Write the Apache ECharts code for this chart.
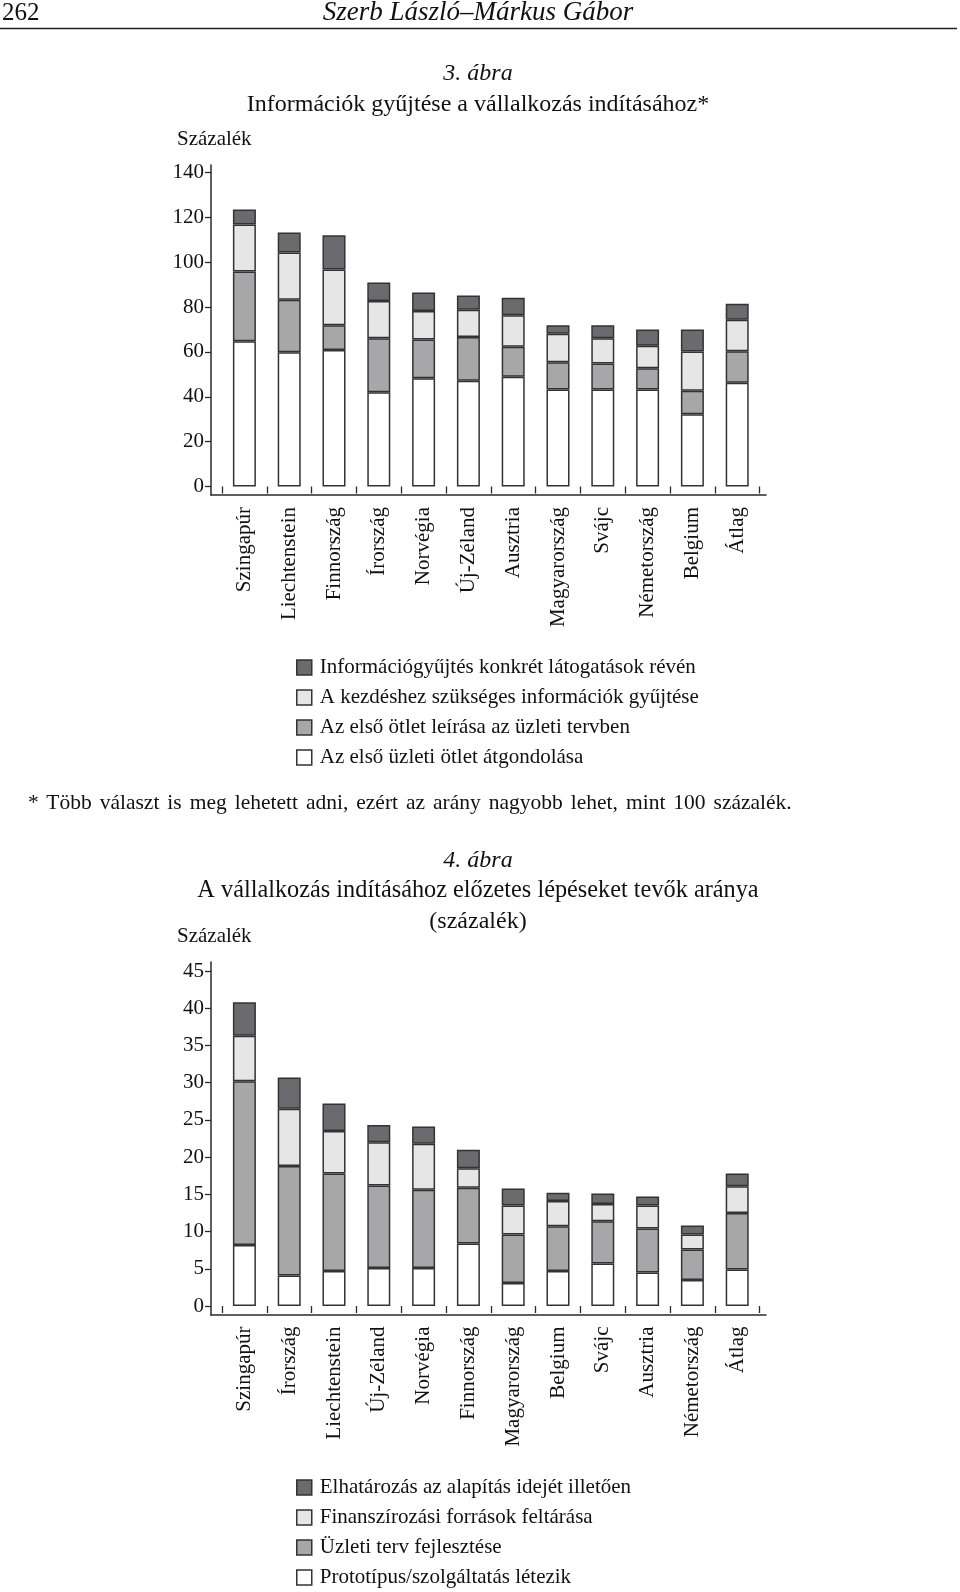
<!DOCTYPE html>
<html>
<head>
<meta charset="utf-8">
<script src="https://cdn.jsdelivr.net/npm/echarts@6/dist/echarts.min.js"></script>
<style>
html,body{margin:0;padding:0;background:#fff;}
#wrap{position:relative;width:960px;height:1592px;}
#c{width:960px;height:1592px;}
#foot{position:absolute;left:28px;top:789px;font-family:'Liberation Serif','DejaVu Serif',serif;font-size:21.5px;line-height:26px;color:#111;word-spacing:2.6px;white-space:nowrap;}
</style>
</head>
<body>
<div id="wrap">
<div id="c"></div>
<div id="foot"></div>
</div>
<script>
// ---- Data: 3. ábra ----
const cats1 = ['Szingapúr','Liechtenstein','Finnország','Írország','Norvégia','Új-Zéland','Ausztria','Magyarország','Svájc','Németország','Belgium','Átlag'];
const atgondolas1 = [64.8, 59.9, 60.9, 42.0, 48.3, 47.1, 48.9, 43.2, 43.2, 43.2, 32.2, 46.3];
const leiras1     = [31.1, 23.4, 11.0, 24.1, 17.2, 19.6, 13.4, 12.2, 11.6, 9.5, 10.5, 14.0];
const kezdes1     = [20.9, 21.0, 24.8, 16.6, 12.7, 12.1, 14.1, 12.7, 11.3, 10.0, 17.5, 14.0];
const latogatas1  = [6.7, 9.0, 15.3, 8.3, 8.3, 6.4, 7.8, 3.8, 5.8, 7.3, 9.8, 7.2];
const names1 = ['Az első üzleti ötlet átgondolása','Az első ötlet leírása az üzleti tervben','A kezdéshez szükséges információk gyűjtése','Információgyűjtés konkrét látogatások révén'];
const yTicks1 = {min: 0, max: 140, interval: 20};

// ---- Data: 4. ábra ----
const cats2 = ['Szingapúr','Írország','Liechtenstein','Új-Zéland','Norvégia','Finnország','Magyarország','Belgium','Svájc','Ausztria','Németország','Átlag'];
const prototipus2 = [8.2, 4.1, 4.7, 5.1, 5.1, 8.4, 3.1, 4.7, 5.7, 4.5, 3.5, 4.9];
const uzleti2     = [22.0, 14.7, 13.1, 11.1, 10.5, 7.5, 6.5, 6.0, 5.7, 5.9, 4.1, 7.6];
const finansz2    = [6.1, 7.7, 5.7, 5.8, 6.2, 2.6, 3.9, 3.4, 2.3, 3.1, 2.0, 3.6];
const elhat2      = [4.5, 4.2, 3.7, 2.3, 2.3, 2.5, 2.3, 1.1, 1.4, 1.2, 1.2, 1.7];
const names2 = ['Prototípus/szolgáltatás létezik','Üzleti terv fejlesztése','Finanszírozási források feltárása','Elhatározás az alapítás idejét illetően'];
const yTicks2 = {min: 0, max: 45, interval: 5};

const footnote = '* Több választ is meg lehetett adni, ezért az arány nagyobb lehet, mint 100 százalék.';
document.getElementById('foot').textContent = footnote;

const FONT = "'Liberation Serif','DejaVu Serif',serif";
const INK = '#2a2a2a';
const fills = ['#ffffff', '#a7a7aa', '#e6e6e7', '#6b6b6f'];

function stackSeries(names, arrays, idx, stack) {
  return arrays.map((arr, i) => ({
    name: names[i], type: 'bar', stack: stack,
    xAxisIndex: idx, yAxisIndex: idx,
    barWidth: 23, data: arr, animation: false,
    itemStyle: {color: fills[i], borderColor: '#333', borderWidth: 1.5}
  }));
}

function catAxis(idx, cats) {
  return {
    gridIndex: idx, type: 'category', data: cats, offset: 8.5,
    axisLine: {show: false},
    axisTick: {show: true, length: 7, interval: 0, lineStyle: {color: INK, width: 1.3}},
    axisLabel: {interval: 0, rotate: 90, margin: 12, color: '#111', fontFamily: FONT, fontSize: 21},
    splitLine: {show: false}
  };
}
function valAxis(idx, t) {
  return {
    gridIndex: idx, type: 'value', min: t.min, max: t.max, interval: t.interval, offset: 11,
    axisLine: {show: false},
    axisTick: {show: true, length: 6, lineStyle: {color: INK, width: 1.3}},
    axisLabel: {margin: 7, color: '#111', fontFamily: FONT, fontSize: 21},
    splitLine: {show: false}
  };
}
function frameAxis(idx) {
  return {
    gridIndex: idx, type: 'value', min: 0, max: 1,
    axisLine: {show: true, onZero: false, lineStyle: {color: INK, width: 1.5}},
    axisTick: {show: false}, axisLabel: {show: false}, splitLine: {show: false}
  };
}
function txt(text, x, y, size, opts) {
  opts = opts || {};
  return {type: 'text', x: x, y: y, silent: true, style: {
    text: text, fill: '#111', textAlign: opts.align || 'center', textVerticalAlign: 'middle',
    font: (opts.italic ? 'italic ' : '') + size + 'px ' + FONT
  }};
}
function legend(names, top) {
  return {
    orient: 'vertical', left: 296, top: top, padding: 0, height: 140,
    itemWidth: 15, itemHeight: 15, itemGap: 9,
    data: names.slice().reverse(), icon: 'rect', selectedMode: false,
    itemStyle: {borderColor: '#333', borderWidth: 1.5},
    textStyle: {fontFamily: FONT, fontSize: 21, color: '#111', padding: [0, 0, 0, 3]}
  };
}

const chart = echarts.init(document.getElementById('c'), null, {renderer: 'canvas'});
chart.setOption({
  backgroundColor: '#fff',
  animation: false,
  grid: [
    {left: 222, width: 537.6, top: 172.5, height: 314},
    {left: 211, width: 555, top: 165, height: 330},
    {left: 222, width: 537.6, top: 971, height: 335},
    {left: 211, width: 555, top: 962, height: 353}
  ],
  xAxis: [catAxis(0, cats1), frameAxis(1), catAxis(2, cats2), frameAxis(3)],
  yAxis: [valAxis(0, yTicks1), frameAxis(1), valAxis(2, yTicks2), frameAxis(3)],
  legend: [legend(names1, 657), legend(names2, 1477)],
  series: [].concat(
    stackSeries(names1, [atgondolas1, leiras1, kezdes1, latogatas1], 0, 'a'),
    stackSeries(names2, [prototipus2, uzleti2, finansz2, elhat2], 2, 'b')
  ),
  graphic: [
    txt('262', 2, 13, 25, {align: 'left'}),
    txt('Szerb László–Márkus Gábor', 478, 13, 27, {italic: true}),
    {type: 'line', silent: true, shape: {x1: 0, y1: 28.5, x2: 957, y2: 28.5}, style: {stroke: '#222', lineWidth: 1.5}},
    txt('3. ábra', 478, 74, 24, {italic: true}),
    txt('Információk gyűjtése a vállalkozás indításához*', 478, 104.5, 24),
    txt('Százalék', 177, 139, 21, {align: 'left'}),
    txt('4. ábra', 478, 860.5, 24, {italic: true}),
    txt('A vállalkozás indításához előzetes lépéseket tevők aránya', 478, 891, 24.3),
    txt('(százalék)', 478, 921.5, 24),
    txt('Százalék', 177, 936, 21, {align: 'left'})
  ]
});
</script>
</body>
</html>
